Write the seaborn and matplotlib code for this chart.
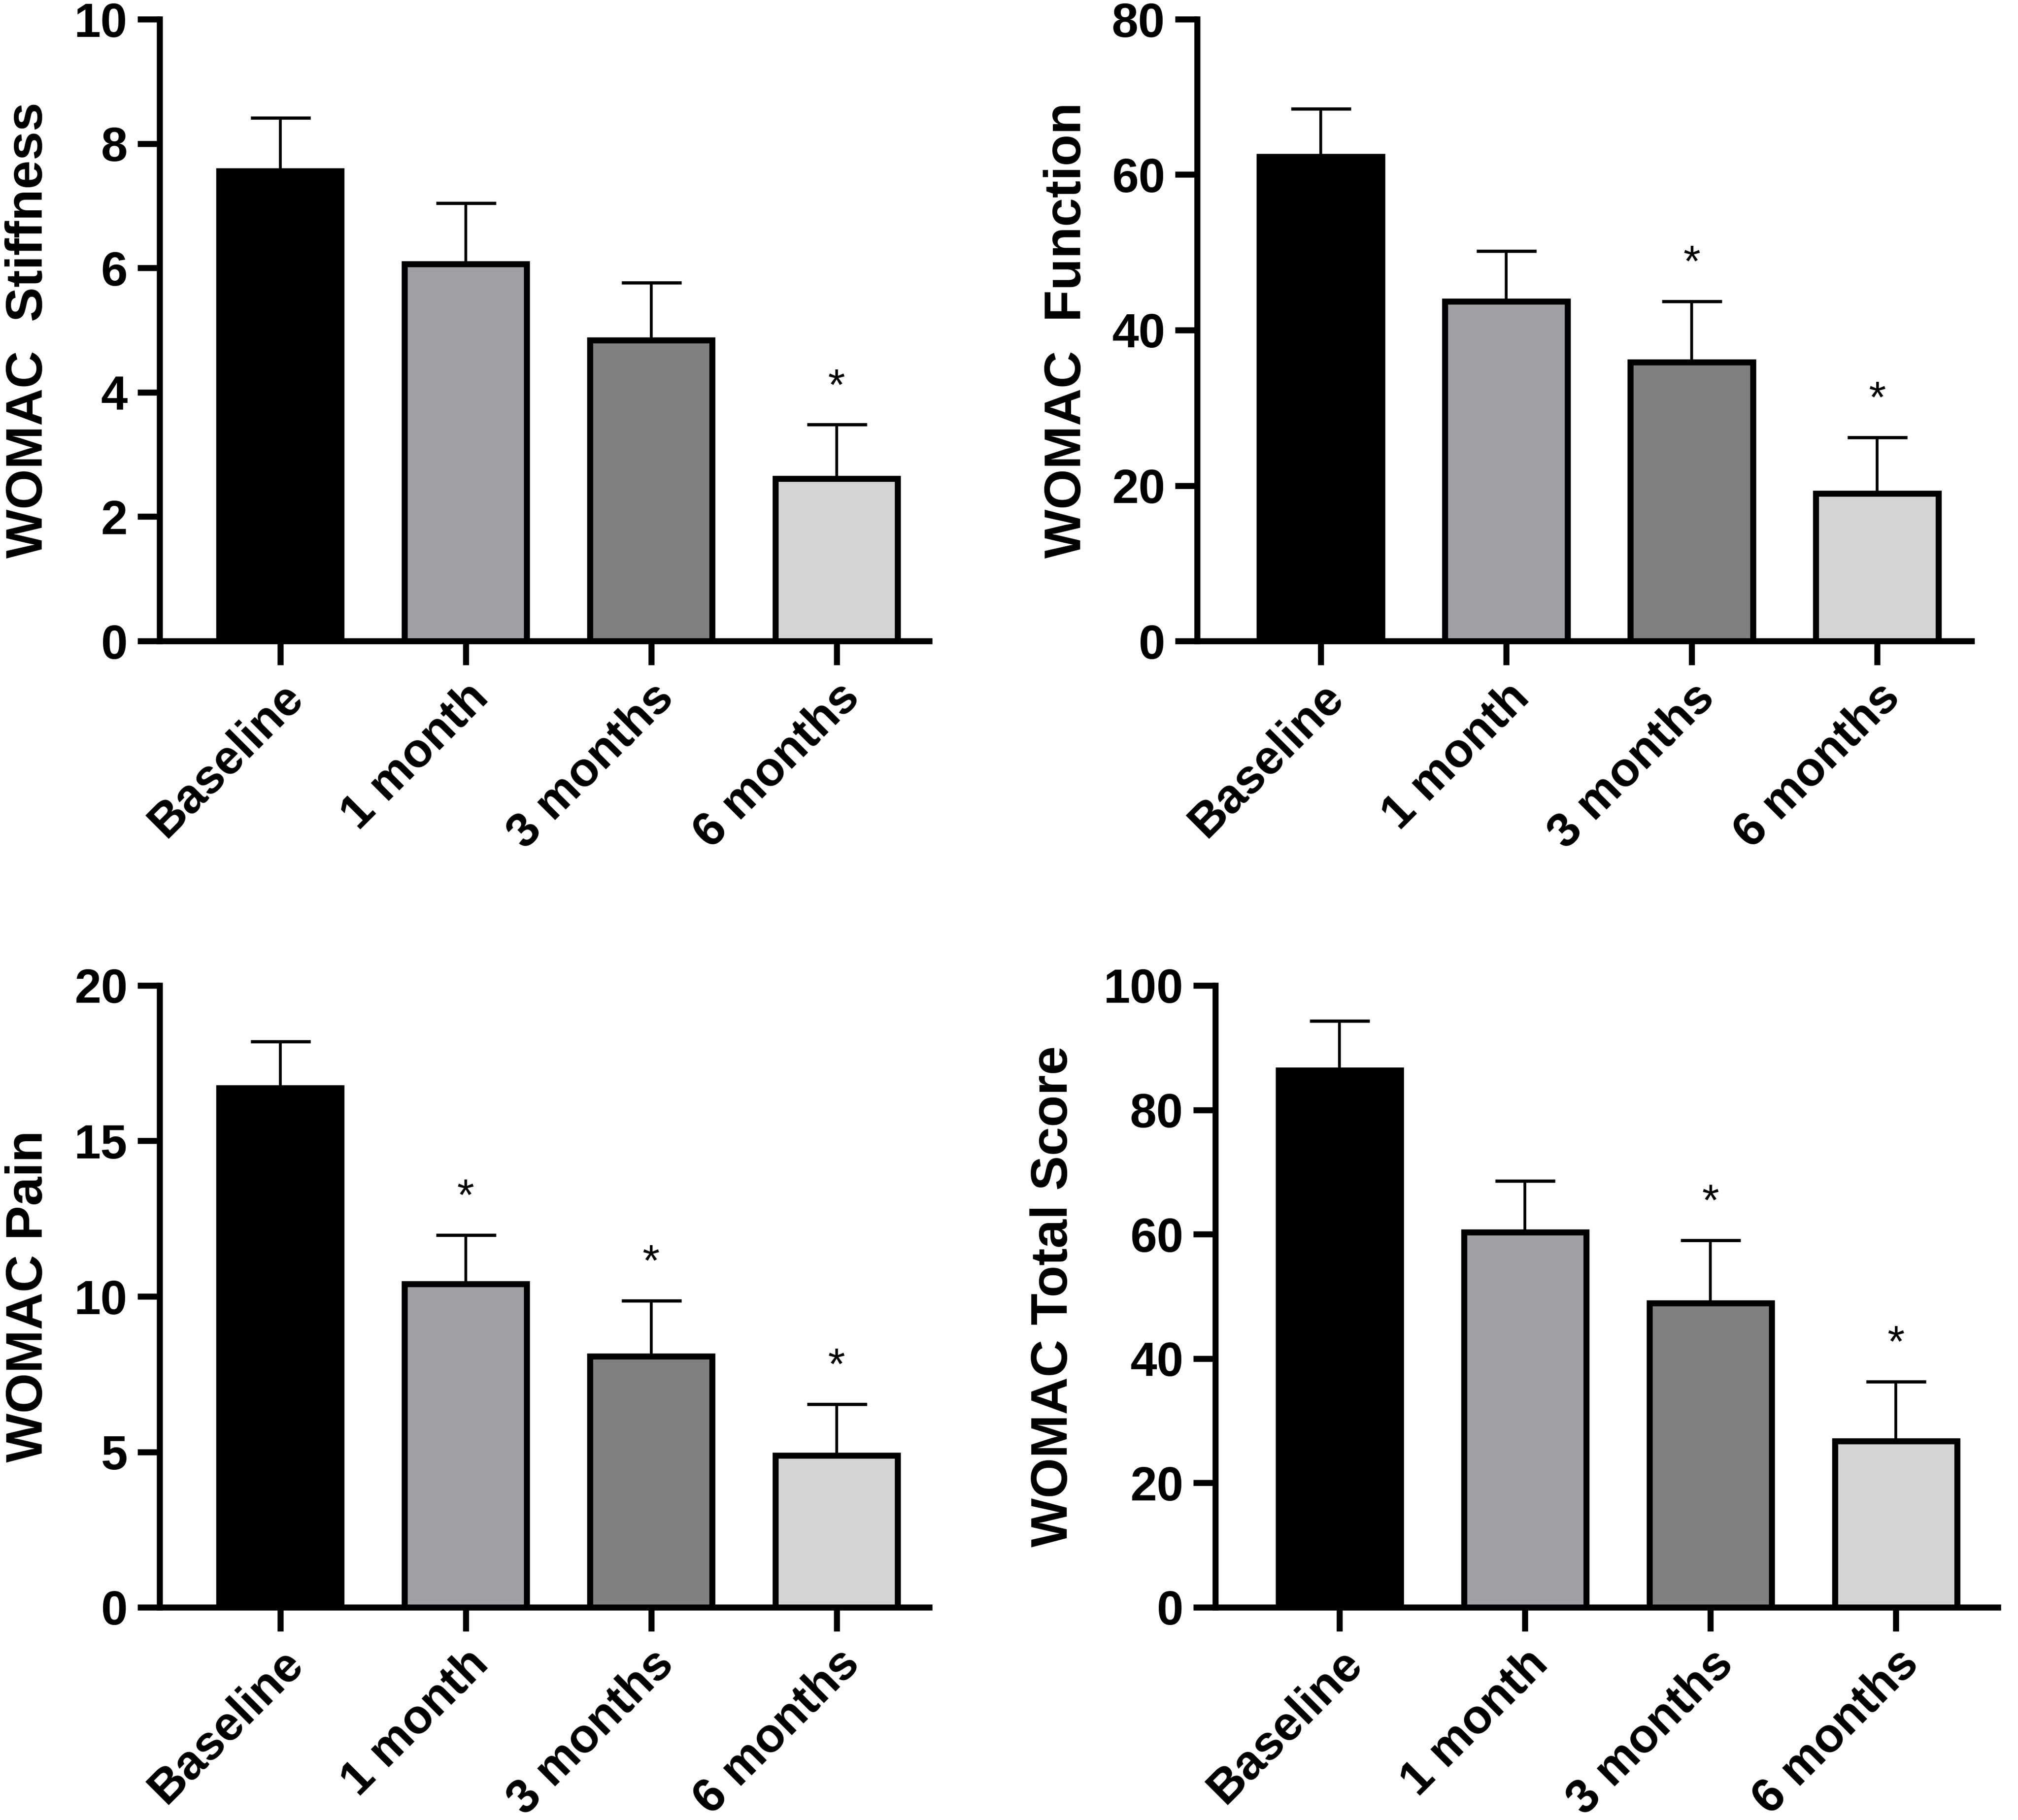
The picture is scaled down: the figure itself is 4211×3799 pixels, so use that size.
import pandas as pd
import numpy as np
import seaborn as sns
import matplotlib.pyplot as plt

timepoints = ["Baseline", "1 month", "3 months", "6 months"]
bar_colors = ["#000000", "#A0A0A4", "#808080", "#D4D4D4"]

stiff_mean = [7.56, 6.06, 4.84, 2.61]
stiff_sd = [0.85, 0.98, 0.92, 0.87]
stiff_sig = [False, False, False, True]

func_mean = [62.3, 43.7, 35.9, 19.0]
func_sd = [6.2, 6.5, 7.8, 7.2]
func_sig = [False, False, True, True]

pain_mean = [16.7, 10.4, 8.07, 4.89]
pain_sd = [1.5, 1.57, 1.79, 1.65]
pain_sig = [False, True, True, True]

total_mean = [86.4, 60.3, 48.9, 26.7]
total_sd = [7.9, 8.3, 10.1, 9.6]
total_sig = [False, False, True, True]

sns.set_style("ticks")
plt.rcParams['font.family'] = ['Liberation Sans', 'DejaVu Sans']
plt.rcParams['axes.edgecolor'] = 'black'
plt.rcParams['text.color'] = 'black'
plt.rcParams['xtick.color'] = 'black'
plt.rcParams['ytick.color'] = 'black'
plt.rcParams['axes.labelcolor'] = 'black'

fig = plt.figure(figsize=(4211 / 300, 3799 / 300), dpi=300)

W, H = 4211, 3799
unit_px = 387  # pixels per category step


def make_axes(spine_x, axis_y, top_y, xmin, xmax):
    left = spine_x / W
    width = (xmax - xmin) * unit_px / W
    bottom = 1 - axis_y / H
    height = (axis_y - top_y) / H
    ax = fig.add_axes([left, bottom, width, height])
    ax.set_xlim(xmin, xmax)
    return ax


panels = [
    # mean, sd, sig, ylabel, ymax, yticks, spine_x, axis_y, top_y, xmin, xmax, label_x
    (stiff_mean, stiff_sd, stiff_sig, "WOMAC  Stiffness", 10, [0, 2, 4, 6, 8, 10],
     333, 1338, 40, -0.65, 3.5, -0.139),
    (func_mean, func_sd, func_sig, "WOMAC  Function", 80, [0, 20, 40, 60, 80],
     2498, 1338, 40, -0.667, 3.51, -0.137),
    (pain_mean, pain_sd, pain_sig, "WOMAC Pain", 20, [0, 5, 10, 15, 20],
     333, 3355, 2057, -0.65, 3.5, -0.139),
    (total_mean, total_sd, total_sig, "WOMAC Total Score", 100, [0, 20, 40, 60, 80, 100],
     2536, 3355, 2057, -0.67, 3.55, -0.176),
]

for mean, sd, sig, ylab, ymax, yticks, sx, ay, ty, xmin, xmax, lx in panels:
    ax = make_axes(sx, ay, ty, xmin, xmax)
    df = pd.DataFrame({"time": timepoints, "value": mean})
    sns.barplot(data=df, x="time", y="value", hue="time", palette=bar_colors,
                order=timepoints, hue_order=timepoints, legend=False,
                width=0.66, edgecolor="black", linewidth=3.0, ax=ax, zorder=3)
    x = np.arange(len(timepoints))
    ax.errorbar(x, mean, yerr=[np.zeros(len(sd)), sd], fmt="none",
                ecolor="black", elinewidth=1.4, capsize=15, capthick=1.6, zorder=2)
    for xi, m, s, flag in zip(x, mean, sd, sig):
        if flag:
            ax.annotate("*", xy=(xi, m + s), xytext=(0, 8), textcoords="offset points",
                        ha="center", va="bottom", fontsize=22)
    ax.set_xlim(xmin, xmax)
    ax.set_ylim(0, ymax)
    ax.set_yticks(yticks)
    ax.set_xlabel("")
    ax.set_ylabel(ylab, fontsize=26, fontweight="bold")
    ax.yaxis.set_label_coords(lx, 0.5)
    sns.despine(ax=ax)
    ax.spines["left"].set_linewidth(3.0)
    ax.spines["bottom"].set_linewidth(3.0)
    ax.tick_params(axis="y", length=11, width=3.0, pad=5, labelsize=24)
    ax.tick_params(axis="x", length=12, width=3.0, pad=5)
    ax.set_xticks(x)
    ax.set_xticklabels(timepoints, rotation=45, ha="right", rotation_mode="anchor",
                       fontsize=24, fontweight="bold")
    for lab in ax.get_yticklabels():
        lab.set_fontweight("bold")

fig.savefig("out.png", dpi=300)
